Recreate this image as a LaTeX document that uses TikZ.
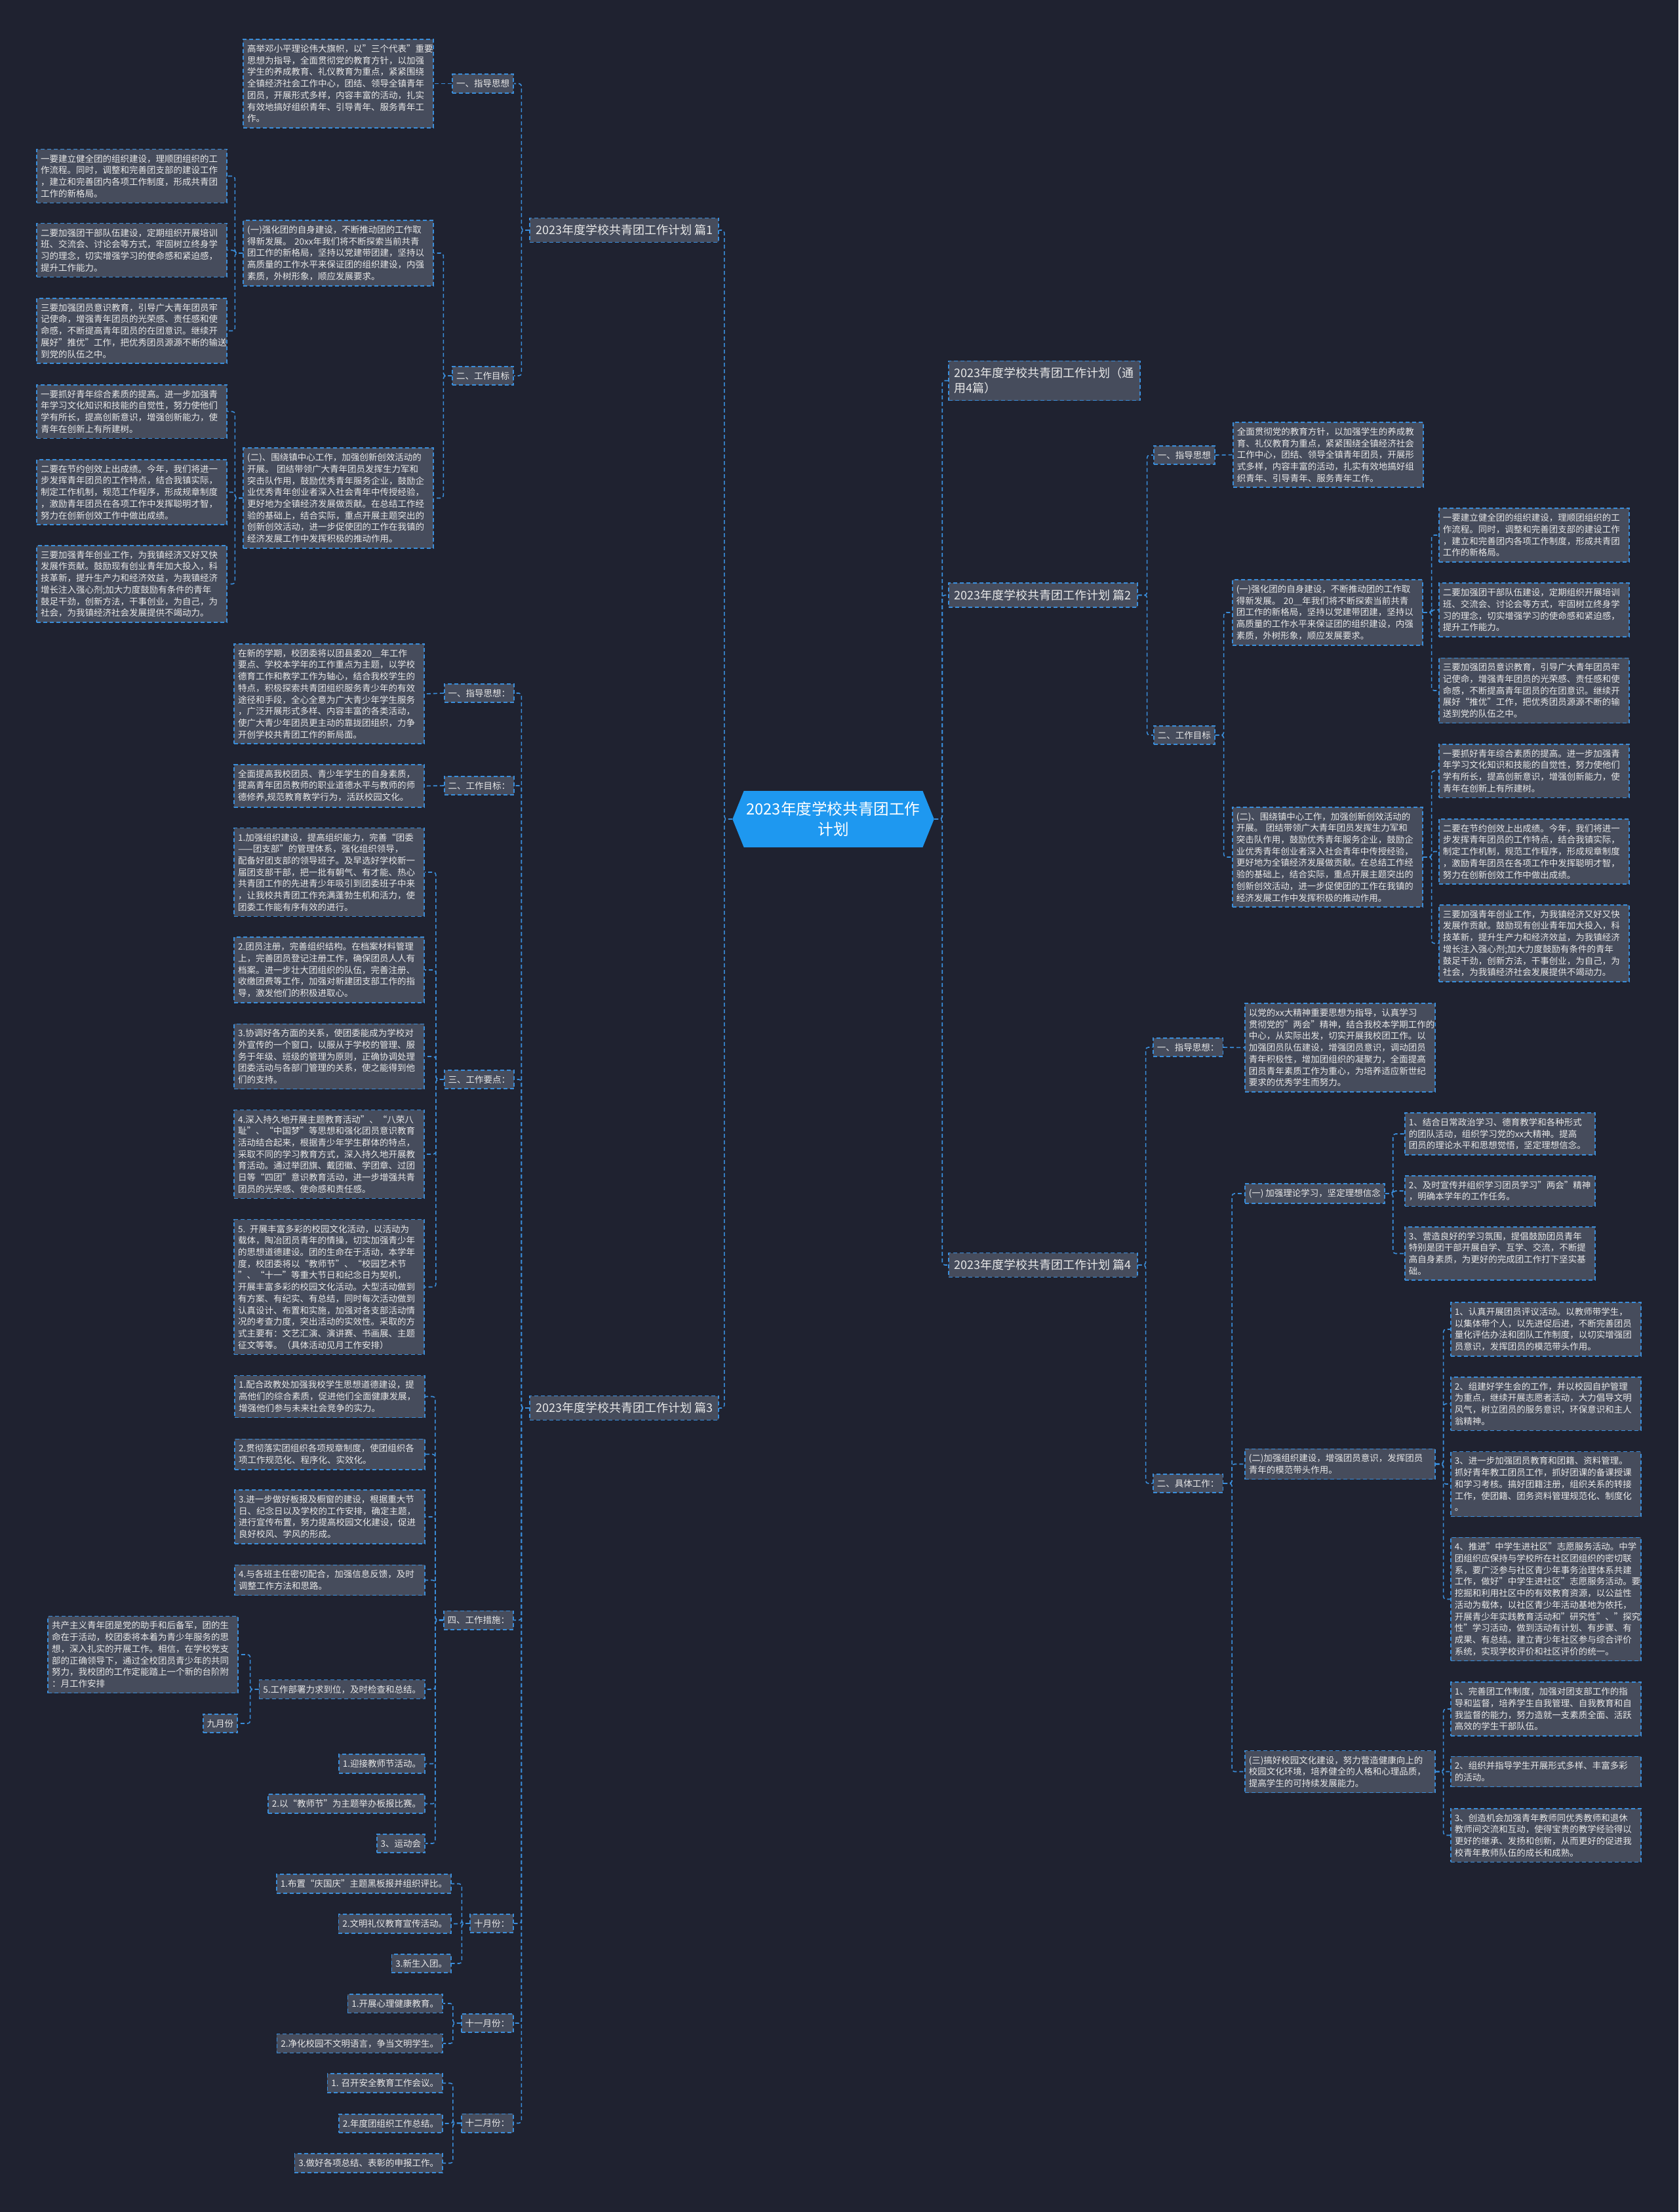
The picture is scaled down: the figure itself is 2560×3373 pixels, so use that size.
\documentclass[tikz,border=0pt]{standalone}
\usepackage{fontspec}
\setmainfont{Noto Sans CJK SC}
\usepackage{tikz}
\usetikzlibrary{shapes.symbols}
\definecolor{mmnight}{HTML}{1F2230}
\definecolor{mmslate}{HTML}{464C5C}
\definecolor{mmblue}{HTML}{3A8EDB}
\definecolor{mmsky}{HTML}{1E98F0}
\definecolor{mmtext}{HTML}{E8E8E8}

\begin{document}
\begin{tikzpicture}[
  x=0.5pt,y=-0.5pt,
  tag/.style={draw=mmblue,line width=0.8pt,dash pattern=on 3pt off 2pt,fill=mmslate,
              text=mmtext,inner xsep=3pt,inner ysep=4pt,
              font=\fontsize{6.75pt}{8.85pt}\selectfont},
  note/.style={tag,text width=139pt,align=left},
  topic/.style={tag,inner xsep=4.5pt,inner ysep=5pt,align=left,
                font=\fontsize{9pt}{11.5pt}\selectfont},
  hub/.style={shape=signal,signal to=west and east,signal pointer angle=136,
              fill=mmsky,text=white,align=center,inner sep=2pt,
              minimum width=150pt,minimum height=43pt,
              font=\fontsize{11.8pt}{15.3pt}\selectfont},
  link/.style={draw=mmblue,line width=0.8pt,dash pattern=on 3pt off 2pt,rounded corners=2pt},
]

\fill[mmnight] (0,0) rectangle (2560,3373);

% the root
\node[hub] (hub) at (1271,1249) {2023年度学校共青团工作\\计划};

% plan 1 (left, top)
\node[topic,anchor=east] (plan1) at (1097,351) {2023年度学校共青团工作计划 篇1};
\node[tag,anchor=east] (guide1) at (784,127.5) {一、指导思想};
\node[note,anchor=east] (guide1t) at (662,127.5)
  {高举邓小平理论伟大旗帜，以"三个代表"重要\\
   思想为指导，全面贯彻党的教育方针，以加强\\
   学生的养成教育、礼仪教育为重点，紧紧围绕\\
   全镇经济社会工作中心，团结、领导全镇青年\\
   团员，开展形式多样，内容丰富的活动，扎实\\
   有效地搞好组织青年、引导青年、服务青年工\\
   作。};
\node[tag,anchor=east] (aim1) at (784,573) {二、工作目标};
\node[note,anchor=east] (aim1x) at (662,386)
  {(一)强化团的自身建设，不断推动团的工作取\\
   得新发展。 20xx年我们将不断探索当前共青\\
   团工作的新格局，坚持以党建带团建，坚持以\\
   高质量的工作水平来保证团的组织建设，内强\\
   素质，外树形象，顺应发展要求。};
\node[note,anchor=east] (aim1y) at (662,759.5)
  {(二)、围绕镇中心工作，加强创新创效活动的\\
   开展。 团结带领广大青年团员发挥生力军和\\
   突击队作用，鼓励优秀青年服务企业，鼓励企\\
   业优秀青年创业者深入社会青年中传授经验，\\
   更好地为全镇经济发展做贡献。在总结工作经\\
   验的基础上，结合实际，重点开展主题突出的\\
   创新创效活动，进一步促使团的工作在我镇的\\
   经济发展工作中发挥积极的推动作用。};
\node[note,anchor=east] (aim1x1) at (347,268.5)
  {一要建立健全团的组织建设，理顺团组织的工\\
   作流程。同时，调整和完善团支部的建设工作\\
   ，建立和完善团内各项工作制度，形成共青团\\
   工作的新格局。};
\node[note,anchor=east] (aim1x2) at (347,381.5)
  {二要加强团干部队伍建设，定期组织开展培训\\
   班、交流会、讨论会等方式，牢固树立终身学\\
   习的理念，切实增强学习的使命感和紧迫感，\\
   提升工作能力。};
\node[note,anchor=east] (aim1x3) at (347,504.5)
  {三要加强团员意识教育，引导广大青年团员牢\\
   记使命，增强青年团员的光荣感、责任感和使\\
   命感，不断提高青年团员的在团意识。继续开\\
   展好"推优"工作，把优秀团员源源不断的输送\\
   到党的队伍之中。};
\node[note,anchor=east] (aim1y1) at (347,627.5)
  {一要抓好青年综合素质的提高。进一步加强青\\
   年学习文化知识和技能的自觉性，努力使他们\\
   学有所长，提高创新意识，增强创新能力，使\\
   青年在创新上有所建树。};
\node[note,anchor=east] (aim1y2) at (347,750.5)
  {二要在节约创效上出成绩。今年，我们将进一\\
   步发挥青年团员的工作特点，结合我镇实际，\\
   制定工作机制，规范工作程序，形成规章制度\\
   ，激励青年团员在各项工作中发挥聪明才智，\\
   努力在创新创效工作中做出成绩。};
\node[note,anchor=east] (aim1y3) at (347,890.5)
  {三要加强青年创业工作，为我镇经济又好又快\\
   发展作贡献。鼓励现有创业青年加大投入，科\\
   技革新，提升生产力和经济效益，为我镇经济\\
   增长注入强心剂;加大力度鼓励有条件的青年\\
   鼓足干劲，创新方法，干事创业，为自己，为\\
   社会，为我镇经济社会发展提供不竭动力。};

% plan 3 (left, bottom)
\node[topic,anchor=east] (plan3) at (1097,2147) {2023年度学校共青团工作计划 篇3};
\node[tag,anchor=east] (guide3) at (785,1057) {一、指导思想：};
\node[note,anchor=east] (guide3t) at (648,1058)
  {在新的学期，校团委将以团县委20＿年工作\\
   要点、学校本学年的工作重点为主题，以学校\\
   德育工作和教学工作为轴心，结合我校学生的\\
   特点，积极探索共青团组织服务青少年的有效\\
   途径和手段，全心全意为广大青少年学生服务\\
   ，广泛开展形式多样、内容丰富的各类活动，\\
   使广大青少年团员更主动的靠拢团组织，力争\\
   开创学校共青团工作的新局面。};
\node[tag,anchor=east] (aim3) at (785,1198) {二、工作目标：};
\node[note,anchor=east] (aim3t) at (648,1198.5)
  {全面提高我校团员、青少年学生的自身素质，\\
   提高青年团员教师的职业道德水平与教师的师\\
   德修养,规范教育教学行为，活跃校园文化。};
\node[tag,anchor=east] (key3) at (785,1646) {三、工作要点：};
\node[note,anchor=east] (key3a) at (648,1330)
  {1.加强组织建设，提高组织能力，完善“团委\\
   ——团支部”的管理体系，强化组织领导，\\
   配备好团支部的领导班子。及早选好学校新一\\
   届团支部干部，把一批有朝气、有才能、热心\\
   共青团工作的先进青少年吸引到团委班子中来\\
   ，让我校共青团工作充满蓬勃生机和活力，使\\
   团委工作能有序有效的进行。};
\node[note,anchor=east] (key3b) at (648,1479)
  {2.团员注册，完善组织结构。在档案材料管理\\
   上，完善团员登记注册工作，确保团员人人有\\
   档案。进一步壮大团组织的队伍，完善注册、\\
   收缴团费等工作，加强对新建团支部工作的指\\
   导，激发他们的积极进取心。};
\node[note,anchor=east] (key3c) at (648,1611)
  {3.协调好各方面的关系，使团委能成为学校对\\
   外宣传的一个窗口，以服从于学校的管理、服\\
   务于年级、班级的管理为原则，正确协调处理\\
   团委活动与各部门管理的关系，使之能得到他\\
   们的支持。};
\node[note,anchor=east] (key3d) at (648,1760)
  {4.深入持久地开展主题教育活动”、“八荣八\\
   耻”、“中国梦”等思想和强化团员意识教育\\
   活动结合起来，根据青少年学生群体的特点，\\
   采取不同的学习教育方式，深入持久地开展教\\
   育活动。通过举团旗、戴团徽、学团章、过团\\
   日等“四团”意识教育活动，进一步增强共青\\
   团员的光荣感、使命感和责任感。};
\node[note,anchor=east] (key3e) at (648,1962.5)
  {5. 开展丰富多彩的校园文化活动，以活动为\\
   载体，陶冶团员青年的情操，切实加强青少年\\
   的思想道德建设。团的生命在于活动，本学年\\
   度，校团委将以“教师节”、“校园艺术节\\
   ”、“十一”等重大节日和纪念日为契机，\\
   开展丰富多彩的校园文化活动。大型活动做到\\
   有方案、有纪实、有总结，同时每次活动做到\\
   认真设计、布置和实施，加强对各支部活动情\\
   况的考查力度，突出活动的实效性。采取的方\\
   式主要有：文艺汇演、演讲赛、书画展、主题\\
   征文等等。（具体活动见月工作安排）};
\node[tag,anchor=east] (step3) at (784,2470.5) {四、工作措施：};
\node[note,anchor=east] (step3a) at (649,2129.5)
  {1.配合政教处加强我校学生思想道德建设，提\\
   高他们的综合素质，促进他们全面健康发展，\\
   增强他们参与未来社会竞争的实力。};
\node[note,anchor=east] (step3b) at (649,2217.5)
  {2.贯彻落实团组织各项规章制度，使团组织各\\
   项工作规范化、程序化、实效化。};
\node[note,anchor=east] (step3c) at (649,2313)
  {3.进一步做好板报及橱窗的建设，根据重大节\\
   日、纪念日以及学校的工作安排，确定主题，\\
   进行宣传布置，努力提高校园文化建设，促进\\
   良好校风、学风的形成。};
\node[note,anchor=east] (step3d) at (649,2409.5)
  {4.与各班主任密切配合，加强信息反馈，及时\\
   调整工作方法和思路。};
\node[tag,anchor=east] (step3e) at (649,2576) {5.工作部署力求到位，及时检查和总结。};
\node[note,anchor=east] (step3e1) at (364,2523)
  {共产主义青年团是党的助手和后备军，团的生\\
   命在于活动，校团委将本着为青少年服务的思\\
   想，深入扎实的开展工作。相信，在学校党支\\
   部的正确领导下，通过全校团员青少年的共同\\
   努力，我校团的工作定能踏上一个新的台阶附\\
   ：月工作安排};
\node[tag,anchor=east] (sep3) at (363,2628) {九月份};
\node[tag,anchor=east] (step3f) at (649,2689.5) {1.迎接教师节活动。};
\node[tag,anchor=east] (step3g) at (649,2750.5) {2.以“教师节”为主题举办板报比赛。};
\node[tag,anchor=east] (step3h) at (649,2811) {3、运动会};
\node[tag,anchor=east] (oct3) at (784,2933) {十月份：};
\node[tag,anchor=east] (oct3a) at (689,2872.5) {1.布置“庆国庆”主题黑板报并组织评比。};
\node[tag,anchor=east] (oct3b) at (689,2933.5) {2.文明礼仪教育宣传活动。};
\node[tag,anchor=east] (oct3c) at (689,2994) {3.新生入团。};
\node[tag,anchor=east] (nov3) at (784,3085) {十一月份：};
\node[tag,anchor=east] (nov3a) at (676,3055) {1.开展心理健康教育。};
\node[tag,anchor=east] (nov3b) at (676,3116) {2.净化校园不文明语言，争当文明学生。};
\node[tag,anchor=east] (dec3) at (784,3237.5) {十二月份：};
\node[tag,anchor=east] (dec3a) at (676,3176.5) {1. 召开安全教育工作会议。};
\node[tag,anchor=east] (dec3b) at (676,3238) {2.年度团组织工作总结。};
\node[tag,anchor=east] (dec3c) at (676,3298.5) {3.做好各项总结、表彰的申报工作。};

% the general title and plan 2 (right, top)
\node[topic,anchor=west] (plan0) at (1446,580.5) {2023年度学校共青团工作计划（通\\用4篇）};
\node[topic,anchor=west] (plan2) at (1446,907.5) {2023年度学校共青团工作计划 篇2};
\node[tag,anchor=west] (guide2) at (1759,694) {一、指导思想};
\node[note,anchor=west] (guide2t) at (1880,693.5)
  {全面贯彻党的教育方针，以加强学生的养成教\\
   育、礼仪教育为重点，紧紧围绕全镇经济社会\\
   工作中心，团结、领导全镇青年团员，开展形\\
   式多样，内容丰富的活动，扎实有效地搞好组\\
   织青年、引导青年、服务青年工作。};
\node[tag,anchor=west] (aim2) at (1759,1121) {二、工作目标};
\node[note,anchor=west] (aim2x) at (1879,934)
  {(一)强化团的自身建设，不断推动团的工作取\\
   得新发展。 20＿年我们将不断探索当前共青\\
   团工作的新格局，坚持以党建带团建，坚持以\\
   高质量的工作水平来保证团的组织建设，内强\\
   素质，外树形象，顺应发展要求。};
\node[note,anchor=west] (aim2y) at (1879,1307)
  {(二)、围绕镇中心工作，加强创新创效活动的\\
   开展。 团结带领广大青年团员发挥生力军和\\
   突击队作用，鼓励优秀青年服务企业，鼓励企\\
   业优秀青年创业者深入社会青年中传授经验，\\
   更好地为全镇经济发展做贡献。在总结工作经\\
   验的基础上，结合实际，重点开展主题突出的\\
   创新创效活动，进一步促使团的工作在我镇的\\
   经济发展工作中发挥积极的推动作用。};
\node[note,anchor=west] (aim2x1) at (2194,816)
  {一要建立健全团的组织建设，理顺团组织的工\\
   作流程。同时，调整和完善团支部的建设工作\\
   ，建立和完善团内各项工作制度，形成共青团\\
   工作的新格局。};
\node[note,anchor=west] (aim2x2) at (2194,930)
  {二要加强团干部队伍建设，定期组织开展培训\\
   班、交流会、讨论会等方式，牢固树立终身学\\
   习的理念，切实增强学习的使命感和紧迫感，\\
   提升工作能力。};
\node[note,anchor=west] (aim2x3) at (2194,1053)
  {三要加强团员意识教育，引导广大青年团员牢\\
   记使命，增强青年团员的光荣感、责任感和使\\
   命感，不断提高青年团员的在团意识。继续开\\
   展好“推优”工作，把优秀团员源源不断的输\\
   送到党的队伍之中。};
\node[note,anchor=west] (aim2y1) at (2194,1175.5)
  {一要抓好青年综合素质的提高。进一步加强青\\
   年学习文化知识和技能的自觉性，努力使他们\\
   学有所长，提高创新意识，增强创新能力，使\\
   青年在创新上有所建树。};
\node[note,anchor=west] (aim2y2) at (2194,1298.5)
  {二要在节约创效上出成绩。今年，我们将进一\\
   步发挥青年团员的工作特点，结合我镇实际，\\
   制定工作机制，规范工作程序，形成规章制度\\
   ，激励青年团员在各项工作中发挥聪明才智，\\
   努力在创新创效工作中做出成绩。};
\node[note,anchor=west] (aim2y3) at (2194,1438.5)
  {三要加强青年创业工作，为我镇经济又好又快\\
   发展作贡献。鼓励现有创业青年加大投入，科\\
   技革新，提升生产力和经济效益，为我镇经济\\
   增长注入强心剂;加大力度鼓励有条件的青年\\
   鼓足干劲，创新方法，干事创业，为自己，为\\
   社会，为我镇经济社会发展提供不竭动力。};

% plan 4 (right, bottom)
\node[topic,anchor=west] (plan4) at (1446,1929) {2023年度学校共青团工作计划 篇4};
\node[tag,anchor=west] (guide4) at (1758,1597) {一、指导思想：};
\node[note,anchor=west] (guide4t) at (1898,1597.5)
  {以党的xx大精神重要思想为指导，认真学习\\
   贯彻党的"两会"精神，结合我校本学期工作的\\
   中心，从实际出发，切实开展我校团工作。以\\
   加强团员队伍建设，增强团员意识，调动团员\\
   青年积极性，增加团组织的凝聚力，全面提高\\
   团员青年素质工作为重心，为培养适应新世纪\\
   要求的优秀学生而努力。};
\node[tag,anchor=west] (work4) at (1758,2262) {二、具体工作：};
\node[tag,anchor=west] (work4a) at (1898,1820) {(一) 加强理论学习，坚定理想信念};
\node[note,anchor=west] (work4a1) at (2142,1729)
  {1、结合日常政治学习、德育教学和各种形式\\
   的团队活动，组织学习党的xx大精神。提高\\
   团员的理论水平和思想觉悟，坚定理想信念。};
\node[note,anchor=west] (work4a2) at (2142,1816)
  {2、及时宣传并组织学习团员学习"两会"精神\\
   ，明确本学年的工作任务。};
\node[note,anchor=west] (work4a3) at (2142,1911.5)
  {3、营造良好的学习氛围，提倡鼓励团员青年\\
   特别是团干部开展自学、互学、交流，不断提\\
   高自身素质，为更好的完成团工作打下坚实基\\
   础。};
\node[note,anchor=west] (work4b) at (1898,2232.5)
  {(二)加强组织建设，增强团员意识，发挥团员\\
   青年的模范带头作用。};
\node[note,anchor=west] (work4b1) at (2212,2027)
  {1、认真开展团员评议活动。以教师带学生，\\
   以集体带个人，以先进促后进，不断完善团员\\
   量化评估办法和团队工作制度，以切实增强团\\
   员意识，发挥团员的模范带头作用。};
\node[note,anchor=west] (work4b2) at (2212,2140.5)
  {2、组建好学生会的工作，并以校园自护管理\\
   为重点，继续开展志愿者活动，大力倡导文明\\
   风气，树立团员的服务意识，环保意识和主人\\
   翁精神。};
\node[note,anchor=west] (work4b3) at (2212,2263)
  {3、进一步加强团员教育和团籍、资料管理。\\
   抓好青年教工团员工作，抓好团课的备课授课\\
   和学习考核。搞好团籍注册，组织关系的转接\\
   工作，使团籍、团务资料管理规范化、制度化\\
   。};
\node[note,anchor=west] (work4b4) at (2212,2438.5)
  {4、推进"中学生进社区"志愿服务活动。中学\\
   团组织应保持与学校所在社区团组织的密切联\\
   系，要广泛参与社区青少年事务治理体系共建\\
   工作，做好"中学生进社区"志愿服务活动。要\\
   挖掘和利用社区中的有效教育资源，以公益性\\
   活动为载体，以社区青少年活动基地为依托，\\
   开展青少年实践教育活动和"研究性"、"探究\\
   性"学习活动，做到活动有计划、有步骤、有\\
   成果、有总结。建立青少年社区参与综合评价\\
   系统，实现学校评价和社区评价的统一。};
\node[note,anchor=west] (work4c) at (1898,2701.5)
  {(三)搞好校园文化建设，努力营造健康向上的\\
   校园文化环境，培养健全的人格和心理品质，\\
   提高学生的可持续发展能力。};
\node[note,anchor=west] (work4c1) at (2212,2606)
  {1、完善团工作制度，加强对团支部工作的指\\
   导和监督，培养学生自我管理、自我教育和自\\
   我监督的能力，努力造就一支素质全面、活跃\\
   高效的学生干部队伍。};
\node[note,anchor=west] (work4c2) at (2212,2701.5)
  {2、组织并指导学生开展形式多样、丰富多彩\\
   的活动。};
\node[note,anchor=west] (work4c3) at (2212,2798.5)
  {3、创造机会加强青年教师同优秀教师和退休\\
   教师间交流和互动，使得宝贵的教学经验得以\\
   更好的继承、发扬和创新，从而更好的促进我\\
   校青年教师队伍的成长和成熟。};

% left-hand links
\draw[link] (hub.west) -- ++(-12,0) |- (plan1.east);
\draw[link] (hub.west) -- ++(-12,0) |- (plan3.east);
\draw[link] (plan1.west) -- ++(-12,0) |- (guide1.east);
\draw[link] (plan1.west) -- ++(-12,0) |- (aim1.east);
\draw[link] (guide1.west) -- (guide1t.east);
\draw[link] (aim1.west) -- ++(-13,0) |- (aim1x.east);
\draw[link] (aim1.west) -- ++(-13,0) |- (aim1y.east);
\draw[link] (aim1x.west) -- ++(-12,0) |- (aim1x1.east);
\draw[link] (aim1x.west) -- ++(-12,0) |- (aim1x2.east);
\draw[link] (aim1x.west) -- ++(-12,0) |- (aim1x3.east);
\draw[link] (aim1y.west) -- ++(-12,0) |- (aim1y1.east);
\draw[link] (aim1y.west) -- ++(-12,0) |- (aim1y2.east);
\draw[link] (aim1y.west) -- ++(-12,0) |- (aim1y3.east);
\draw[link] (plan3.west) -- ++(-12,0) |- (guide3.east);
\draw[link] (plan3.west) -- ++(-12,0) |- (aim3.east);
\draw[link] (plan3.west) -- ++(-12,0) |- (key3.east);
\draw[link] (plan3.west) -- ++(-12,0) |- (step3.east);
\draw[link] (plan3.west) -- ++(-12,0) |- (oct3.east);
\draw[link] (plan3.west) -- ++(-12,0) |- (nov3.east);
\draw[link] (plan3.west) -- ++(-12,0) |- (dec3.east);
\draw[link] (guide3.west) -- (guide3t.east);
\draw[link] (aim3.west) -- (aim3t.east);
\draw[link] (key3.west) -- ++(-12,0) |- (key3a.east);
\draw[link] (key3.west) -- ++(-12,0) |- (key3b.east);
\draw[link] (key3.west) -- ++(-12,0) |- (key3c.east);
\draw[link] (key3.west) -- ++(-12,0) |- (key3d.east);
\draw[link] (key3.west) -- ++(-12,0) |- (key3e.east);
\draw[link] (step3.west) -- ++(-12,0) |- (step3a.east);
\draw[link] (step3.west) -- ++(-12,0) |- (step3b.east);
\draw[link] (step3.west) -- ++(-12,0) |- (step3c.east);
\draw[link] (step3.west) -- ++(-12,0) |- (step3d.east);
\draw[link] (step3.west) -- ++(-12,0) |- (step3e.east);
\draw[link] (step3.west) -- ++(-12,0) |- (step3f.east);
\draw[link] (step3.west) -- ++(-12,0) |- (step3g.east);
\draw[link] (step3.west) -- ++(-12,0) |- (step3h.east);
\draw[link] (step3e.west) -- ++(-13,0) |- (step3e1.east);
\draw[link] (step3e.west) -- ++(-13,0) |- (sep3.east);
\draw[link] (oct3.west) -- ++(-12,0) |- (oct3a.east);
\draw[link] (oct3.west) -- ++(-12,0) |- (oct3b.east);
\draw[link] (oct3.west) -- ++(-12,0) |- (oct3c.east);
\draw[link] (nov3.west) -- ++(-12,0) |- (nov3a.east);
\draw[link] (nov3.west) -- ++(-12,0) |- (nov3b.east);
\draw[link] (dec3.west) -- ++(-12,0) |- (dec3a.east);
\draw[link] (dec3.west) -- ++(-12,0) |- (dec3b.east);
\draw[link] (dec3.west) -- ++(-12,0) |- (dec3c.east);

% right-hand links
\draw[link] (hub.east) -- ++(12,0) |- (plan0.west);
\draw[link] (hub.east) -- ++(12,0) |- (plan2.west);
\draw[link] (hub.east) -- ++(12,0) |- (plan4.west);
\draw[link] (plan2.east) -- ++(14,0) |- (guide2.west);
\draw[link] (plan2.east) -- ++(14,0) |- (aim2.west);
\draw[link] (guide2.east) -- (guide2t.west);
\draw[link] (aim2.east) -- ++(13,0) |- (aim2x.west);
\draw[link] (aim2.east) -- ++(13,0) |- (aim2y.west);
\draw[link] (aim2x.east) -- ++(13,0) |- (aim2x1.west);
\draw[link] (aim2x.east) -- ++(13,0) |- (aim2x2.west);
\draw[link] (aim2x.east) -- ++(13,0) |- (aim2x3.west);
\draw[link] (aim2y.east) -- ++(13,0) |- (aim2y1.west);
\draw[link] (aim2y.east) -- ++(13,0) |- (aim2y2.west);
\draw[link] (aim2y.east) -- ++(13,0) |- (aim2y3.west);
\draw[link] (plan4.east) -- ++(12,0) |- (guide4.west);
\draw[link] (plan4.east) -- ++(12,0) |- (work4.west);
\draw[link] (guide4.east) -- (guide4t.west);
\draw[link] (work4.east) -- ++(13,0) |- (work4a.west);
\draw[link] (work4.east) -- ++(13,0) |- (work4b.west);
\draw[link] (work4.east) -- ++(13,0) |- (work4c.west);
\draw[link] (work4a.east) -- ++(12,0) |- (work4a1.west);
\draw[link] (work4a.east) -- ++(12,0) |- (work4a2.west);
\draw[link] (work4a.east) -- ++(12,0) |- (work4a3.west);
\draw[link] (work4b.east) -- ++(12,0) |- (work4b1.west);
\draw[link] (work4b.east) -- ++(12,0) |- (work4b2.west);
\draw[link] (work4b.east) -- ++(12,0) |- (work4b3.west);
\draw[link] (work4b.east) -- ++(12,0) |- (work4b4.west);
\draw[link] (work4c.east) -- ++(12,0) |- (work4c1.west);
\draw[link] (work4c.east) -- ++(12,0) |- (work4c2.west);
\draw[link] (work4c.east) -- ++(12,0) |- (work4c3.west);

\end{tikzpicture}
\end{document}
